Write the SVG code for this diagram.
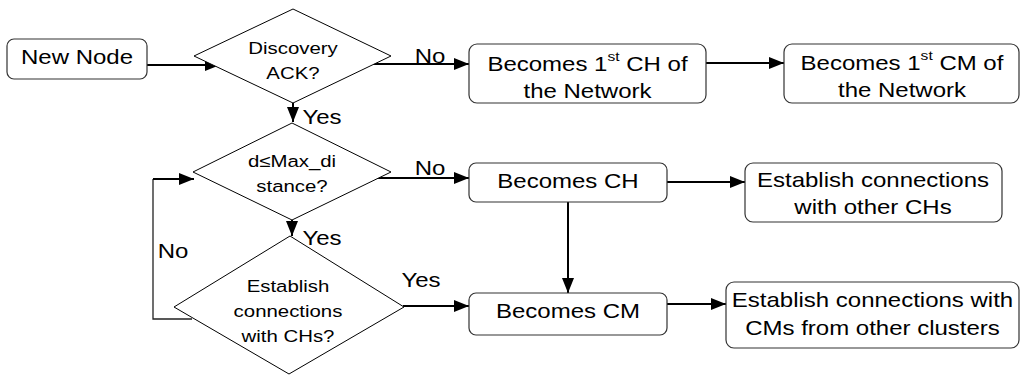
<svg xmlns="http://www.w3.org/2000/svg" width="1022" height="376" viewBox="0 0 1022 376">
<style>
.box{fill:#fff;stroke:#333;stroke-width:1.2}
.dia{fill:#fff;stroke:#000;stroke-width:1}
.t{font-family:"Liberation Sans",Arial,sans-serif;font-size:20px;fill:#000;text-anchor:middle}
.s{font-family:"Liberation Sans",Arial,sans-serif;font-size:17px;fill:#000;text-anchor:middle}
.c{fill:none;stroke:#000;stroke-width:2}
.thin{fill:none;stroke:#222;stroke-width:1.3}
</style>
<defs>
<marker id="ah" viewBox="0 0 15 12" refX="15" refY="6" markerWidth="15" markerHeight="12" markerUnits="userSpaceOnUse" orient="auto">
<path d="M0,0 L15,6 L0,12 z" fill="#000"/>
</marker>
</defs>
<g id="connectors">
<path class="c" d="M147,65 L220,65" marker-end="url(#ah)"/>
<path class="c" d="M373,64 L469,64" marker-end="url(#ah)"/>
<path class="c" d="M293,103 L293,122" marker-end="url(#ah)"/>
<path class="c" d="M706,63 L784,63" marker-end="url(#ah)"/>
<path class="c" d="M372,178 L469,178" marker-end="url(#ah)"/>
<path class="c" d="M667,182 L745,182" marker-end="url(#ah)"/>
<path class="c" d="M292,220 L292,236" marker-end="url(#ah)"/>
<path class="thin" d="M192,319 L153,319 L153,179"/>
<path class="c" d="M153,179 L194,179" marker-end="url(#ah)"/>
<path class="c" d="M403,306 L469,306" marker-end="url(#ah)"/>
<path class="c" d="M568,202 L568,293" marker-end="url(#ah)"/>
<path class="c" d="M667,304 L726,304" marker-end="url(#ah)"/>
<text class="t" transform="matrix(1.2,0,0,1,430,0)" x="0" y="63">No</text>
<text class="t" transform="matrix(1.2,0,0,1,322,0)" x="0" y="124">Yes</text>
<text class="t" transform="matrix(1.2,0,0,1,430,0)" x="0" y="175">No</text>
<text class="t" transform="matrix(1.2,0,0,1,322,0)" x="0" y="245">Yes</text>
<text class="t" transform="matrix(1.2,0,0,1,173,0)" x="0" y="258">No</text>
<text class="t" transform="matrix(1.2,0,0,1,421,0)" x="0" y="287">Yes</text>
</g>
<g id="new-node">
<rect class="box" x="7" y="39" width="140" height="40" rx="7"/>
<text class="t" transform="matrix(1.2,0,0,1,77,0)" x="0" y="64">New Node</text>
</g>
<g id="discovery-ack">
<polygon class="dia" points="293,9 391,56 293,103 194,56"/>
<text class="s" transform="matrix(1.2,0,0,1,293,0)" x="0" y="54">Discovery<tspan x="0" y="79">ACK?</tspan></text>
</g>
<g id="first-ch">
<rect class="box" x="469" y="44" width="237" height="59" rx="8"/>
<text class="t" transform="matrix(1.2,0,0,1,587.5,0)" x="0" y="71">Becomes 1<tspan dy="-10" font-size="13">st</tspan><tspan dy="10"> CH of</tspan><tspan x="0" y="98">the Network</tspan></text>
</g>
<g id="first-cm">
<rect class="box" x="784" y="44" width="235" height="59" rx="8"/>
<text class="t" transform="matrix(1.2,0,0,1,902,0)" x="0" y="70">Becomes 1<tspan dy="-10" font-size="13">st</tspan><tspan dy="10"> CM of</tspan><tspan x="0" y="97">the Network</tspan></text>
</g>
<g id="max-distance">
<polygon class="dia" points="292,123 391,172 292,220 193,172"/>
<text class="s" transform="matrix(1.2,0,0,1,292,0)" x="0" y="167">d≤Max_di<tspan x="0" y="192">stance?</tspan></text>
</g>
<g id="becomes-ch">
<rect class="box" x="469" y="163" width="198" height="39" rx="7"/>
<text class="t" transform="matrix(1.2,0,0,1,568,0)" x="0" y="188">Becomes CH</text>
</g>
<g id="establish-ch">
<rect class="box" x="745" y="163" width="257" height="59" rx="8"/>
<text class="t" transform="matrix(1.2,0,0,1,873,0)" x="0" y="187">Establish connections<tspan x="0" y="214">with other CHs</tspan></text>
</g>
<g id="establish-with-chs">
<polygon class="dia" points="290,236 404,307 289,374 174,307"/>
<text class="s" transform="matrix(1.2,0,0,1,288,0)" x="0" y="292">Establish<tspan x="0" y="317">connections</tspan><tspan x="0" y="342">with CHs?</tspan></text>
</g>
<g id="becomes-cm">
<rect class="box" x="469" y="293" width="198" height="42" rx="7"/>
<text class="t" transform="matrix(1.2,0,0,1,568,0)" x="0" y="318">Becomes CM</text>
</g>
<g id="establish-cm">
<rect class="box" x="726" y="282" width="293" height="66" rx="8"/>
<text class="t" transform="matrix(1.2,0,0,1,872.5,0)" x="0" y="307">Establish connections with<tspan x="0" y="335">CMs from other clusters</tspan></text>
</g>
</svg>
